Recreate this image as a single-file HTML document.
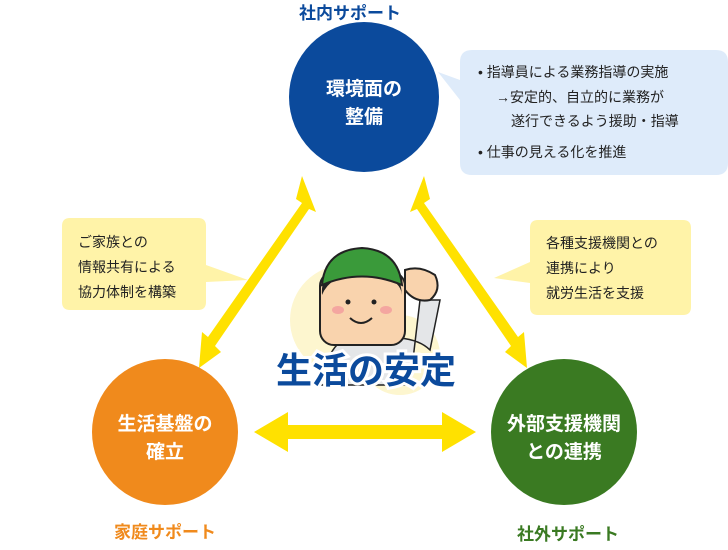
<!DOCTYPE html>
<html><head><meta charset="utf-8"><style>
body{margin:0;width:728px;height:545px;background:#fff;overflow:hidden;font-family:"Liberation Sans","Noto Sans CJK JP",sans-serif;}
</style></head><body>
<svg width="728" height="545" viewBox="0 0 728 545" xmlns="http://www.w3.org/2000/svg" style="font-family:'Liberation Sans','Noto Sans CJK JP',sans-serif">
<!-- callouts -->
<path d="M472,50 H716 Q728,50 728,62 V163 Q728,175 716,175 H472 Q460,175 460,163 V100 L438,72 L460,80 V62 Q460,50 472,50Z" fill="#deebfa"/>
<g font-size="14" fill="#222">
<text x="478" y="77">• 指導員による業務指導の実施</text>
<text x="496" y="102">→安定的、自立的に業務が</text>
<text x="511" y="126">遂行できるよう援助・指導</text>
<text x="478" y="157">• 仕事の見える化を推進</text>
</g>
<path d="M70,218 H198 Q206,218 206,226 V265 L248,280 L206,282 V302 Q206,310 198,310 H70 Q62,310 62,302 V226 Q62,218 70,218Z" fill="#fff3a8"/>
<g font-size="14" fill="#222">
<text x="78" y="247">ご家族との</text>
<text x="78" y="272">情報共有による</text>
<text x="78" y="297">協力体制を構築</text>
</g>
<path d="M538,220 H683 Q691,220 691,228 V307 Q691,315 683,315 H538 Q530,315 530,307 V283 L494,278 L530,262 V228 Q530,220 538,220Z" fill="#fff3a8"/>
<g font-size="14" fill="#222">
<text x="546" y="248">各種支援機関との</text>
<text x="546" y="273">連携により</text>
<text x="546" y="298">就労生活を支援</text>
</g>
<!-- arrows -->
<g fill="#ffe100">
<path d="M302,176 L316,212 L309,209 L215,346 L221,352 L199,368 L202,332 L208,337 L302,203 L296,199Z"/>
<path d="M424,176 L410,212 L417,209 L511,346 L505,352 L527,368 L524,332 L518,337 L424,203 L430,199Z"/>
<path d="M254,432 L288,412 L288,425 L442,425 L442,412 L476,432 L442,452 L442,439 L288,439 L288,452Z"/>
</g>
<!-- circles -->
<circle cx="364" cy="97" r="75" fill="#0b4a9c"/>
<circle cx="165" cy="432" r="73" fill="#f08a1c"/>
<circle cx="564" cy="432" r="73" fill="#3a7a22"/>
<g fill="#fff" font-size="19" font-weight="bold" text-anchor="middle">
<text x="364" y="95">環境面の</text><text x="364" y="123">整備</text>
<text x="165" y="430">生活基盤の</text><text x="165" y="458">確立</text>
<text x="564" y="430">外部支援機関</text><text x="564" y="458">との連携</text>
</g>
<g font-size="17" font-weight="bold" text-anchor="middle">
<text x="350" y="19" fill="#0b4a9c">社内サポート</text>
<text x="165" y="538" fill="#f08a1c">家庭サポート</text>
<text x="568" y="540" fill="#3a7a22">社外サポート</text>
</g>
<!-- character -->
<circle cx="345" cy="320" r="55" fill="#fdf6cf"/>
<circle cx="400" cy="355" r="40" fill="#fdf6cf"/>
<path d="M320,385 Q330,340 350,338 L400,338 Q420,340 430,350 L440,300 L420,300 L410,385Z" fill="#e4e6e8" stroke="#222" stroke-width="1.5"/>
<path d="M405,270 Q420,265 435,275 Q442,290 430,300 Q415,303 405,290Z" fill="#f9d3ad" stroke="#222" stroke-width="2"/>
<rect x="320" y="272" width="85" height="73" rx="14" fill="#f9d3ad" stroke="#222" stroke-width="2"/>
<path d="M322,295 Q320,262 360,258 Q400,260 402,295 Q400,275 360,273 Q330,275 322,295Z" fill="#222"/>
<path d="M322,285 Q325,250 362,248 Q398,250 402,285 Q362,268 322,285Z" fill="#3a9a3a" stroke="#222" stroke-width="2"/>
<circle cx="348" cy="302" r="2.5" fill="#222"/><circle cx="374" cy="302" r="2.5" fill="#222"/>
<ellipse cx="338" cy="310" rx="6" ry="4" fill="#f4a6a0"/><ellipse cx="386" cy="310" rx="6" ry="4" fill="#f4a6a0"/>
<path d="M350,318 Q361,328 372,318" fill="none" stroke="#222" stroke-width="2"/>
<text x="366" y="383" font-size="36" font-weight="bold" text-anchor="middle" fill="#0b4a9c" stroke="#fff" stroke-width="6" paint-order="stroke">生活の安定</text>
</svg>
</body></html>
